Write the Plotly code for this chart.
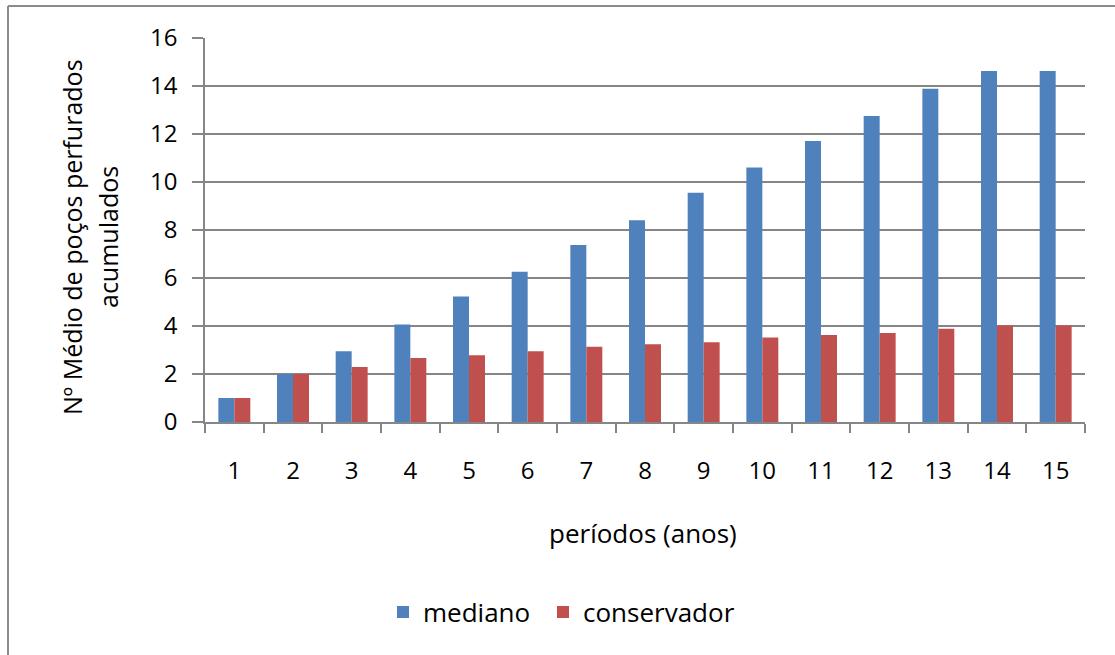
import plotly.graph_objects as go

periodos = [str(i) for i in range(1, 16)]
mediano = [1.0, 2.0, 2.95, 4.06, 5.23, 6.26, 7.37, 8.41, 9.55, 10.6, 11.71, 12.75, 13.89, 14.63, 14.63]
conservador = [1.0, 2.0, 2.29, 2.67, 2.78, 2.95, 3.14, 3.24, 3.32, 3.52, 3.62, 3.71, 3.89, 4.02, 4.02]
y_ticks = [0, 2, 4, 6, 8, 10, 12, 14, 16]

FONT = "Open Sans"
W, H = 1115, 655
ML, MR, MT, MB = 205, 30, 38, 233
PW = W - ML - MR
PH = H - MT - MB

fig = go.Figure()
fig.add_trace(go.Bar(x=periodos, y=mediano, name="mediano", marker_color="#4F81BD",
                     marker_line_width=0, legend="legend"))
fig.add_trace(go.Bar(x=periodos, y=conservador, name="conservador", marker_color="#C0504D",
                     marker_line_width=0, legend="legend2"))

def px_x(p):
    return (p - ML) / PW

def px_y(p):
    return 1 - (p - MT) / PH

legend_style = dict(orientation="h", xanchor="left", yanchor="middle",
                    font=dict(family=FONT, size=26), itemwidth=30,
                    bgcolor="rgba(0,0,0,0)")

fig.update_layout(
    width=W, height=H,
    margin=dict(l=ML, r=MR, t=MT, b=MB, autoexpand=False),
    paper_bgcolor="white", plot_bgcolor="white",
    barmode="group", bargap=0.455, bargroupgap=0,
    font=dict(family=FONT, size=24, color="#000000"),
    showlegend=True,
    legend=dict(x=px_x(383), y=px_y(612), **legend_style),
    legend2=dict(x=px_x(543), y=px_y(612), **legend_style),
    xaxis=dict(
        type="category", range=[-0.5, 14.5],
        showline=True, linecolor="#868686", linewidth=1.5,
        ticks="outside", tickson="boundaries", ticklen=9, tickcolor="#868686", tickwidth=1.5,
        tickfont=dict(family=FONT, size=24), ticklabelstandoff=26,
        showgrid=False,
    ),
    yaxis=dict(
        range=[0, 16], tickvals=y_ticks, ticktext=[str(v) for v in y_ticks],
        showline=True, linecolor="#868686", linewidth=1.5,
        ticks="outside", ticklen=11, tickcolor="#868686", tickwidth=1.5,
        showgrid=True, gridcolor="#868686", gridwidth=1.5,
        tickfont=dict(family=FONT, size=24), ticklabelstandoff=10,
        zeroline=False,
    ),
    shapes=[
        dict(type="line", xref="paper", yref="paper", x0=px_x(8), x1=px_x(8),
             y0=px_y(6), y1=px_y(660), line=dict(color="#8c8c8c", width=2)),
        dict(type="line", xref="paper", yref="paper", x0=px_x(8), x1=px_x(1120),
             y0=px_y(6), y1=px_y(6), line=dict(color="#8c8c8c", width=2)),
    ],
    annotations=[
        dict(text="períodos (anos)", xref="paper", yref="paper", x=px_x(643), y=px_y(533),
             xanchor="center", yanchor="middle", showarrow=False,
             font=dict(family=FONT, size=26)),
        dict(text="Nº Médio de poços perfurados", xref="paper", yref="paper",
             x=px_x(72), y=px_y(237), xanchor="center", yanchor="middle", textangle=-90,
             showarrow=False, font=dict(family=FONT, size=25)),
        dict(text="acumulados", xref="paper", yref="paper",
             x=px_x(108), y=px_y(237), xanchor="center", yanchor="middle", textangle=-90,
             showarrow=False, font=dict(family=FONT, size=25)),
    ],
)

fig.write_html("out.html")
